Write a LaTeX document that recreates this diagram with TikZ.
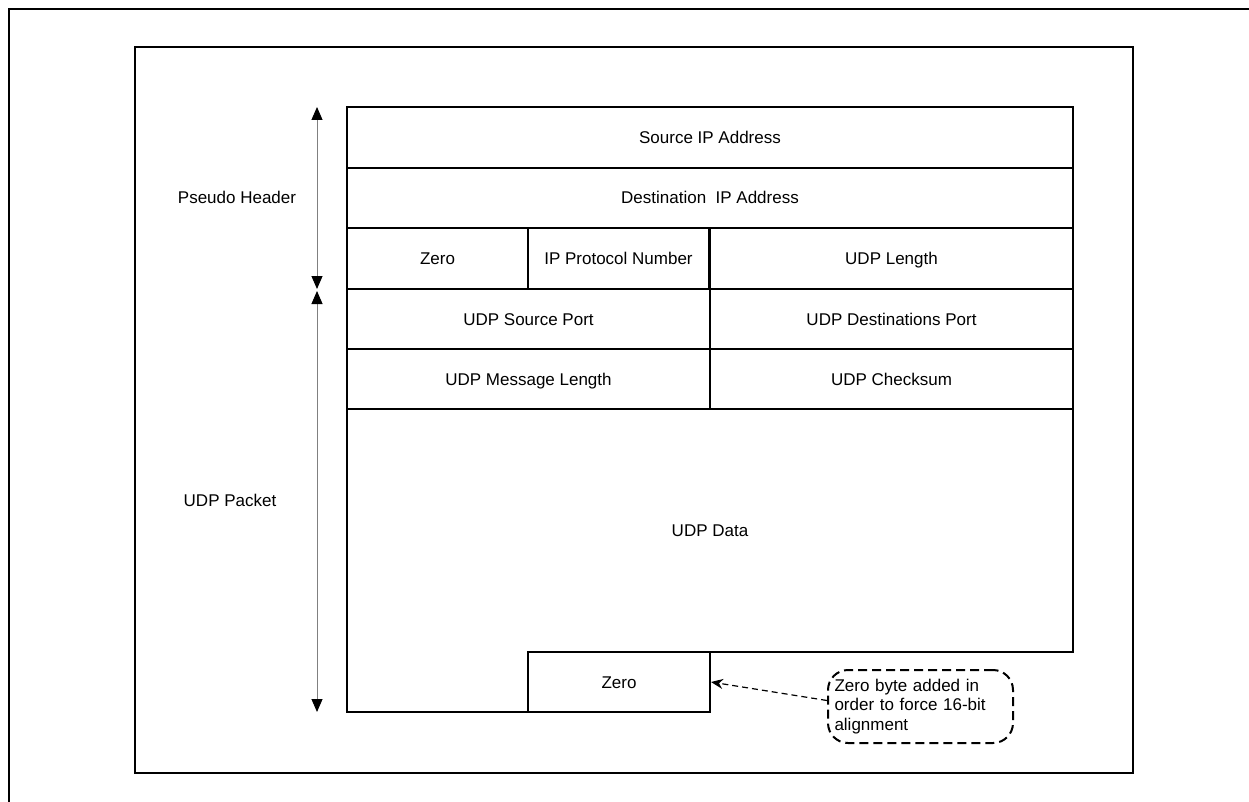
\documentclass[tikz,border=0pt]{standalone}
\usepackage{fontspec}
\setmainfont{Liberation Sans}
\usetikzlibrary{arrows.meta,calc}
\begin{document}
\begin{tikzpicture}[x=1pt,y=-1pt,
  every node/.style={font=\fontsize{17}{19.5}\selectfont},
  frame/.style={draw=black,line width=2pt},
  cell/.style={draw=black,line width=2pt,inner sep=0pt,anchor=center,text height=13pt,text depth=1pt},
  lbl/.style={inner sep=0pt,text height=13pt,text depth=1pt},
  span/.style={draw=gray,line width=1pt,{Triangle[black,width=11pt,length=13pt]}-{Triangle[black,width=11pt,length=13pt]}},
  note/.style={draw=black,line width=2pt,dash pattern=on 9pt off 5pt,rounded corners=20pt,
    minimum width=185pt,minimum height=73pt,text width=172pt,align=left,inner sep=6pt},
  pointer/.style={draw=black,line width=1.2pt,dash pattern=on 6pt off 4pt,-{Stealth[length=12pt,width=10pt]}}
]
\useasboundingbox (0,0) rectangle (1249,802);
\clip (0,0) rectangle (1249,802);
\fill[white] (0,0) rectangle (1249,802);
% frames
\draw[frame] (9,9) rectangle (1270,830);
\draw[frame] (135,47) rectangle (1133,773);
% header cells
\node[cell,minimum width=726pt,minimum height=61pt] (src) at (710,137.5) {Source IP Address};
\node[cell,minimum width=726pt,minimum height=60pt] (dst) at (710,198) {Destination\ \ IP Address};
\node[cell,minimum width=181pt,minimum height=61pt] (zeroa) at (437.5,258.5) {Zero};
\node[cell,minimum width=181pt,minimum height=61pt] (proto) at (618.5,258.5) {IP Protocol Number};
\node[cell,minimum width=363pt,minimum height=61pt] (udplen) at (891.5,258.5) {UDP Length};
\node[cell,minimum width=363pt,minimum height=60pt] (sport) at (528.5,319) {UDP Source Port};
\node[cell,minimum width=363pt,minimum height=60pt] (dport) at (891.5,319) {UDP Destinations Port};
\node[cell,minimum width=363pt,minimum height=60pt] (mlen) at (528.5,379) {UDP Message Length};
\node[cell,minimum width=363pt,minimum height=60pt] (csum) at (891.5,379) {UDP Checksum};
% data region
\draw[frame,line join=miter] (347,409) -- (1073,409) -- (1073,652) -- (710,652) -- (710,712) -- (347,712) -- cycle;
\node[lbl] (data) at (710,530) {UDP Data};
\node[cell,minimum width=182pt,minimum height=60pt] (zerob) at (619,682) {Zero};
% span arrows
\coordinate (phtop) at (317,107);
\coordinate (phbot) at (317,289);
\coordinate (uptop) at (317,291);
\coordinate (upbot) at (317,712);
\draw[span] (phtop) -- (phbot);
\draw[span] (uptop) -- (upbot);
\node[lbl] (phlbl) at (237,198) {Pseudo Header};
\node[lbl] (uplbl) at (230,500) {UDP Packet};
% note
\node[note] (callout) at (920.5,706.5) {Zero byte added in\\order to force 16-bit\\alignment};
\draw[pointer] ([yshift=6pt]callout.west) -- (zerob.east);
\end{tikzpicture}
\end{document}
